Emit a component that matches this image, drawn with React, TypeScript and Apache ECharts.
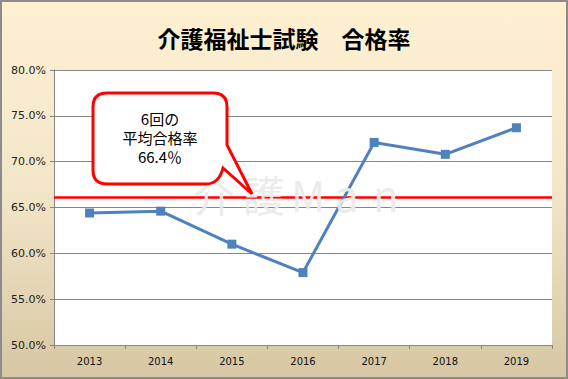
import React, { useEffect, useRef } from "react";
import * as echarts from "echarts";

const years = ["2013", "2014", "2015", "2016", "2017", "2018", "2019"];
const passRates = [64.4, 64.6, 61.0, 57.9, 72.1, 70.8, 73.7];
const averageLine = 66.1;
const averageLabel = ["6回の", "平均合格率", "66.4％"];
const titleText = "介護福祉士試験　合格率";
const watermarkChars = ["介", "護", "M", "a", "n"];
const watermarkOffsets = [0, 50, 98, 142, 180];

const calloutPath =
  "M 107 93 H 213 Q 227 93 227 107 V 145 L 252 194 L 223 168 Q 219 184 206 184 H 107 Q 93 184 93 170 V 107 Q 93 93 107 93 Z";

export default function App() {
  const ref = useRef<HTMLDivElement>(null);
  useEffect(() => {
    document.body.style.margin = "0";
    if (!ref.current) return;
    try {
      echarts.graphic.registerShape("callout", echarts.graphic.extendPath(calloutPath, {}));
    } catch (e) {}
    const chart = echarts.init(ref.current, undefined, { renderer: "svg" });
    chart.setOption({
      animation: false,
      backgroundColor: "transparent",
      title: {
        text: titleText,
        left: "center",
        top: 21,
        textStyle: {
          fontFamily: "Noto Sans CJK JP",
          fontSize: 23,
          fontWeight: "bold",
          color: "#000",
        },
      },
      grid: {
        left: 54,
        right: 16,
        top: 70,
        bottom: 34,
        show: true,
        backgroundColor: "#ffffff",
        borderWidth: 0,
        containLabel: false,
      },
      xAxis: {
        type: "category",
        data: years,
        boundaryGap: true,
        axisLine: { show: true, lineStyle: { color: "#868686", width: 1 } },
        axisTick: { show: true, length: 4, lineStyle: { color: "#868686" } },
        axisLabel: {
          fontFamily: "DejaVu Sans",
          fontSize: 10,
          color: "#111",
          margin: 11,
        },
      },
      yAxis: {
        type: "value",
        min: 50,
        max: 80,
        interval: 5,
        axisLine: { show: true, lineStyle: { color: "#868686", width: 1 } },
        axisTick: { show: true, length: 4, lineStyle: { color: "#868686" } },
        splitLine: { show: true, lineStyle: { color: "#868686", width: 1 } },
        axisLabel: {
          fontFamily: "DejaVu Sans",
          fontSize: 11,
          color: "#222",
          margin: 8,
          formatter: (v: number) => v.toFixed(1) + "%",
        },
      },
      series: [
        {
          type: "line",
          data: passRates,
          symbol: "rect",
          symbolSize: 9,
          lineStyle: { color: "#4F81BD", width: 3 },
          itemStyle: { color: "#4F81BD" },
          z: 3,
          markLine: {
            silent: true,
            symbol: "none",
            label: { show: false },
            lineStyle: { color: "#FF0000", width: 2.5, type: "solid" },
            data: [{ yAxis: averageLine }],
            z: 2,
          },
        },
      ],
      graphic: [
        {
          type: "group",
          x: 193,
          y: 172,
          z: 10,
          children: watermarkChars.map((ch, i) => ({
            type: "text",
            x: watermarkOffsets[i],
            y: 0,
            z: 10,
            style: {
              text: ch,
              fontFamily: "Noto Sans CJK JP",
              fontSize: 42,
              fontWeight: "normal",
              fill: "rgba(234,234,234,0.95)",
            },
          })),
        },
        {
          type: "callout",
          x: 0,
          y: 0,
          z: 20,
          style: { fill: "#ffffff", stroke: "#FF0000", lineWidth: 3 },
        },
        {
          type: "text",
          x: 160,
          y: 137,
          z: 21,
          style: {
            text: averageLabel.join("\n"),
            fontFamily: "Noto Sans CJK JP",
            fontSize: 15,
            lineHeight: 19,
            fill: "#000",
            align: "center",
            verticalAlign: "middle",
          },
        },
      ],
    });
    return () => chart.dispose();
  }, []);
  return (
    <div
      style={{
        position: "relative",
        width: 568,
        height: 379,
        background: "linear-gradient(to bottom, #FFF0D2 0%, #F3E6C8 50%, #D6C6A3 100%)",
      }}
    >
      <div ref={ref} style={{ position: "absolute", left: 0, top: 0, width: 568, height: 379 }} />
      <div
        style={{
          position: "absolute",
          left: 0,
          top: 0,
          width: 568,
          height: 379,
          boxSizing: "border-box",
          border: "2px solid #8c8c8c",
          pointerEvents: "none",
        }}
      />
    </div>
  );
}
